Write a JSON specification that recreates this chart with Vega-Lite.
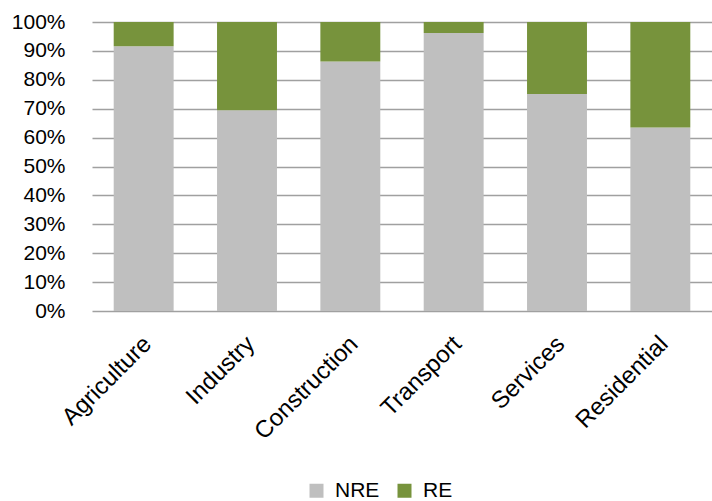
{
  "$schema": "https://vega.github.io/schema/vega-lite/v6.json",
  "width": 620,
  "height": 289,
  "autosize": {"type": "none"},
  "padding": {"left": 92, "top": 22, "right": 0, "bottom": 190},
  "background": "white",
  "data": {
    "values": [
      {"sector": "Agriculture", "type": "NRE", "share": 0.916},
      {"sector": "Agriculture", "type": "RE", "share": 0.084},
      {"sector": "Industry", "type": "NRE", "share": 0.695},
      {"sector": "Industry", "type": "RE", "share": 0.305},
      {"sector": "Construction", "type": "NRE", "share": 0.863},
      {"sector": "Construction", "type": "RE", "share": 0.137},
      {"sector": "Transport", "type": "NRE", "share": 0.962},
      {"sector": "Transport", "type": "RE", "share": 0.038},
      {"sector": "Services", "type": "NRE", "share": 0.751},
      {"sector": "Services", "type": "RE", "share": 0.249},
      {"sector": "Residential", "type": "NRE", "share": 0.635},
      {"sector": "Residential", "type": "RE", "share": 0.365}
    ]
  },
  "mark": {"type": "bar"},
  "encoding": {
    "x": {
      "field": "sector",
      "type": "nominal",
      "sort": ["Agriculture", "Industry", "Construction", "Transport", "Services", "Residential"],
      "scale": {"paddingInner": 0.42, "paddingOuter": 0.21},
      "axis": {
        "title": null,
        "labelAngle": -45,
        "labelAlign": "right",
        "labelBaseline": "middle",
        "labelFont": "Liberation Sans",
        "labelFontSize": 24,
        "labelColor": "#000000",
        "labelPadding": 29,
        "labelOffset": 4,
        "ticks": false,
        "domain": false,
        "grid": false
      }
    },
    "y": {
      "field": "share",
      "type": "quantitative",
      "stack": "zero",
      "scale": {"domain": [0, 1], "nice": false},
      "axis": {
        "title": null,
        "format": "%",
        "values": [0, 0.1, 0.2, 0.3, 0.4, 0.5, 0.6, 0.7, 0.8, 0.9, 1],
        "labelFont": "Liberation Sans",
        "labelFontSize": 21,
        "labelColor": "#000000",
        "labelPadding": 27,
        "ticks": false,
        "domain": false,
        "grid": true,
        "gridColor": "#A0A0A0",
        "gridWidth": 1.5
      }
    },
    "color": {
      "field": "type",
      "type": "nominal",
      "scale": {"domain": ["NRE", "RE"], "range": ["#BFBFBF", "#77933C"]},
      "legend": {
        "title": null,
        "orient": "none",
        "direction": "horizontal",
        "legendX": 214,
        "legendY": 458,
        "symbolType": "square",
        "symbolSize": 196,
        "symbolStrokeWidth": 0,
        "labelFont": "Liberation Sans",
        "labelFontSize": 21,
        "labelColor": "#000000",
        "labelOffset": 8,
        "columnPadding": 14
      }
    },
    "order": {"field": "type", "sort": "ascending"}
  },
  "config": {"view": {"stroke": null}}
}
